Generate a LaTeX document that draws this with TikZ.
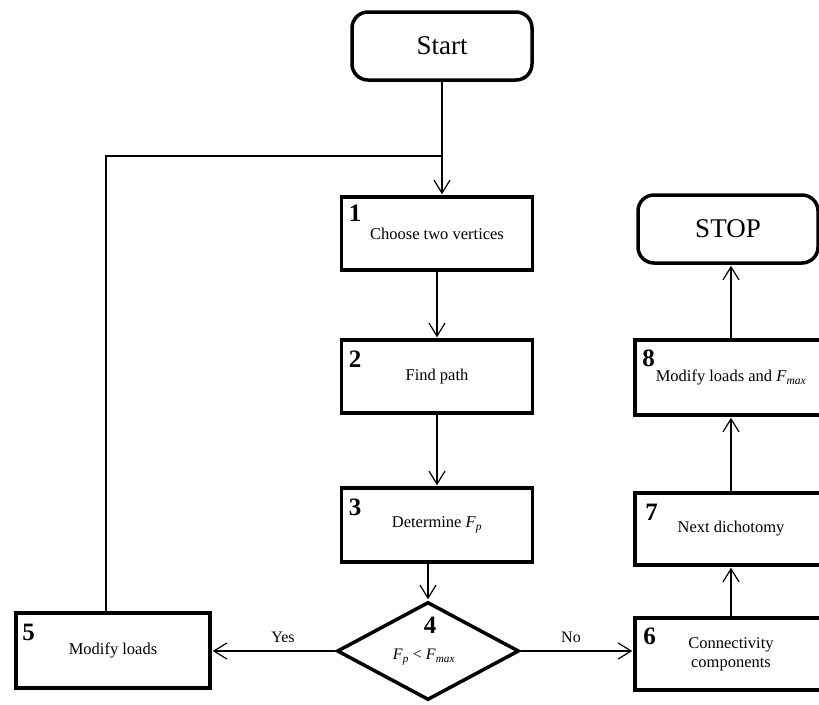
\documentclass[tikz,border=0pt]{standalone}
\usepackage{fontspec}
\setmainfont{Liberation Serif}
\usetikzlibrary{shapes.geometric,arrows.meta,calc}
\begin{document}
\begin{tikzpicture}[x=1pt,y=-1pt,
 box/.style={draw, line width=3.5pt, minimum width=191pt, minimum height=73pt, inner sep=0pt, font=\fontsize{16.5}{19}\selectfont, align=center},
 term/.style={draw, line width=3.5pt, rounded corners=16pt, minimum width=180pt, minimum height=68pt, font=\fontsize{27}{30}\selectfont},
 num/.style={anchor=north west, inner sep=0pt, font=\fontsize{25}{28}\selectfont\bfseries},
 conn/.style={line width=1.2pt},
 arr/.style={conn, shorten >=1pt, -{Straight Barb[length=13pt,width=16pt]}},
 lbl/.style={font=\fontsize{16}{18}\selectfont, inner sep=0pt}]
\useasboundingbox (0,0) rectangle (819,704);
\clip (0,0) rectangle (819,704);
\fill[white] (0,0) rectangle (819,704);

\node[term] (start) at (442,46) {Start};
\node[box] (b1) at (437,233.5) {Choose two vertices};
\node[box] (b2) at (437,376.5) {Find path};
\node[box, minimum height=74pt] (b3) at (437,525) {Determine \textit{F}\textsubscript{\textit{p}}};
\node[draw, diamond, line width=3.5pt, minimum width=182pt, minimum height=98pt, inner sep=0pt] (d4) at (428,651) {};
\node[box, minimum width=194pt, minimum height=75pt] (b5) at (113,650.5) {Modify loads};
\node[box, minimum width=192pt, minimum height=72pt] (b6) at (731,654) {Connectivity\\components};
\node[box, minimum width=192pt, minimum height=72pt] (b7) at (731,529) {Next dichotomy};
\node[box, minimum width=192pt, minimum height=75pt] (b8) at (731,377.5) {Modify loads and \textit{F}\textsubscript{\textit{max}}};
\node[term] (stop) at (728,229) {STOP};

\node[num] (n1) at ($(b1.north west)+(9,10)$) {1};
\node[num] (n2) at ($(b2.north west)+(9,12)$) {2};
\node[num] (n3) at ($(b3.north west)+(9,12)$) {3};
\node[num] (n5) at ($(b5.north west)+(8,13)$) {5};
\node[num] (n6) at ($(b6.north west)+(10,11)$) {6};
\node[num] (n7) at ($(b7.north west)+(12,13)$) {7};
\node[num] (n8) at ($(b8.north west)+(9,11)$) {8};
\node[num, anchor=center] (n4) at (430,625) {4};
\node[lbl] (c4) at (424,657) {\textit{F}\textsubscript{\textit{p}} < \textit{F}\textsubscript{\textit{max}}};

\coordinate (loopy) at (106,156);
\draw[arr] (start.south) -- (start.south |- b1.north);
\draw[conn] (b5.north -| loopy) -- (loopy) -- (loopy -| start.south);
\draw[arr] (b1) -- (b2);
\draw[arr] (b2) -- (b3);
\draw[arr] (b3.south -| d4.north) -- (d4.north);
\draw[arr] (d4.west) -- (b5.east |- d4.west);
\draw[arr] (d4.east) -- (b6.west |- d4.east);
\draw[arr] (b6) -- (b7);
\draw[arr] (b7) -- (b8);
\draw[arr] (b8.north) -- (b8.north |- stop.south);

\node[lbl] (yes) at (283,637) {Yes};
\node[lbl] (no) at (571,637) {No};
\end{tikzpicture}
\end{document}
